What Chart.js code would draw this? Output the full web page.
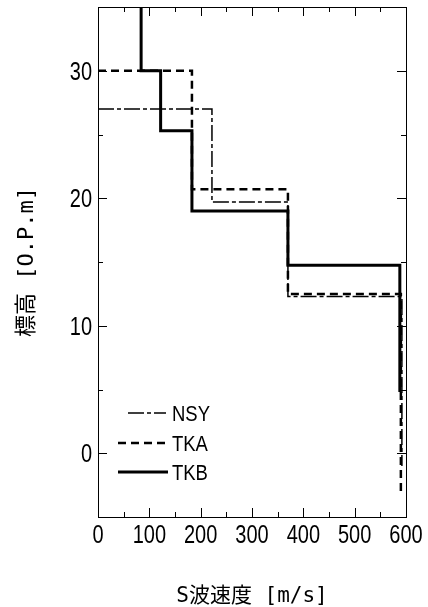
<!DOCTYPE html>
<html lang="ja">
<head>
  <meta charset="UTF-8" />
  <title>S波速度構造</title>
  <script src="https://cdn.jsdelivr.net/npm/chart.js"></script>
  <style>
    html, body { margin: 0; padding: 0; background: #fff; }
  </style>
</head>
<body>
  <canvas id="vsChart" width="428" height="607"></canvas>

  <script>
  // Layer velocities (m/s) and the elevations (O.P.m) of the layer boundaries
  const nsyVs = [222, 370, 592];
  const nsyLevels = [27, 19.7, 12.3, -1];
  const tkaVs = [183, 370, 590];
  const tkaLevels = [30, 20.7, 12.5, -3.2];
  const tkbVs = [84, 122, 183, 370, 588];
  const tkbLevels = [35, 30, 25.3, 19, 14.75, 4.8];

  const seriesNames = ['NSY', 'TKA', 'TKB'];
  const xTicks = [0, 100, 200, 300, 400, 500, 600];
  const yTicks = [0, 10, 20, 30];

  const labelFont = "'Liberation Sans', Arial, sans-serif";
  const titleFont = "'DejaVu Sans Mono', 'Noto Sans CJK JP', monospace";

  // Turn a layer model into a step profile (optionally starting at the axis)
  function stepPoints(vs, levels, fromAxis) {
    const pts = [];
    if (fromAxis) pts.push({ x: 0, y: levels[0] });
    vs.forEach((v, i) => {
      pts.push({ x: v, y: levels[i] });
      pts.push({ x: v, y: levels[i + 1] });
    });
    return pts;
  }

  // Minor ticks halfway between the labelled ones
  function halfSteps(ticks) {
    const out = [];
    for (let i = 0; i < ticks.length - 1; i++) out.push((ticks[i] + ticks[i + 1]) / 2);
    return out;
  }

  // Narrow-looking text: squeeze glyphs horizontally
  function narrowText(ctx, text, x, y, align, squeeze) {
    ctx.save();
    ctx.translate(x, y);
    ctx.scale(squeeze, 1);
    ctx.textAlign = align;
    ctx.textBaseline = 'alphabetic';
    ctx.fillText(text, 0, 0);
    ctx.restore();
  }

  // Box around the plot, inward tick marks on every side and the tick labels
  const framePlugin = {
    id: 'frame',
    afterDatasetsDraw(chart) {
      const { ctx, chartArea: a, scales } = chart;
      const xs = scales.x, ys = scales.y;
      ctx.save();
      ctx.strokeStyle = '#000';
      ctx.lineWidth = 1;
      ctx.strokeRect(a.left + 0.5, a.top + 0.5, a.right - a.left, a.bottom - a.top);

      const yMinor = halfSteps([-10].concat(yTicks, [40]));
      const marks = (vals, len, horiz) => {
        vals.forEach(v => {
          ctx.beginPath();
          if (horiz) {
            const px = Math.round(xs.getPixelForValue(v)) + 0.5;
            ctx.moveTo(px, a.bottom); ctx.lineTo(px, a.bottom - len);
            ctx.moveTo(px, a.top); ctx.lineTo(px, a.top + len);
          } else {
            if (v <= ys.min || v >= ys.max) return;
            const py = Math.round(ys.getPixelForValue(v)) + 0.5;
            ctx.moveTo(a.left, py); ctx.lineTo(a.left + len, py);
            ctx.moveTo(a.right, py); ctx.lineTo(a.right - len, py);
          }
          ctx.stroke();
        });
      };
      marks(xTicks, 9, true);
      marks(halfSteps(xTicks), 5, true);
      marks(yTicks, 9, false);
      marks(yMinor, 5, false);

      ctx.fillStyle = '#000';
      ctx.font = '25px ' + labelFont;
      xTicks.forEach(v => narrowText(ctx, String(v), xs.getPixelForValue(v), a.bottom + 26, 'center', 0.8));
      yTicks.forEach(v => narrowText(ctx, String(v), a.left - 6, ys.getPixelForValue(v) + 9, 'right', 0.8));
      ctx.restore();
    }
  };

  // Legend in the lower-left corner of the plot, using each dataset's line style
  const legendPlugin = {
    id: 'insideLegend',
    afterDraw(chart) {
      const { ctx } = chart;
      const rows = [
        { y: 413, x0: 128, x1: 166 },
        { y: 443, x0: 118, x1: 168 },
        { y: 472, x0: 118, x1: 168 }
      ];
      ctx.save();
      chart.data.datasets.forEach((ds, i) => {
        const r = rows[i];
        ctx.strokeStyle = ds.borderColor;
        ctx.lineWidth = ds.borderWidth;
        ctx.setLineDash(ds.borderDash || []);
        ctx.beginPath();
        ctx.moveTo(r.x0, r.y);
        ctx.lineTo(r.x1, r.y);
        ctx.stroke();
        ctx.setLineDash([]);
        ctx.fillStyle = '#000';
        ctx.font = '22px ' + labelFont;
        narrowText(ctx, ds.label, 172, r.y + 8, 'left', 0.84);
      });
      ctx.restore();
    }
  };

  new Chart(document.getElementById('vsChart'), {
    type: 'scatter',
    data: {
      datasets: [
        {
          label: seriesNames[0],
          data: stepPoints(nsyVs, nsyLevels, true),
          borderColor: '#000',
          borderWidth: 1.5,
          borderDash: [16, 3, 4, 3]
        },
        {
          label: seriesNames[1],
          data: stepPoints(tkaVs, tkaLevels, true),
          borderColor: '#000',
          borderWidth: 2.5,
          borderDash: [8, 5]
        },
        {
          label: seriesNames[2],
          data: stepPoints(tkbVs, tkbLevels, false),
          borderColor: '#000',
          borderWidth: 3
        }
      ].map(ds => Object.assign(ds, { showLine: true, pointRadius: 0, fill: false, tension: 0 }))
    },
    options: {
      responsive: false,
      animation: false,
      layout: { padding: { top: 7, right: 22, left: 0, bottom: 0 } },
      plugins: {
        legend: { display: false },
        tooltip: { enabled: false }
      },
      scales: {
        x: {
          type: 'linear',
          min: 0,
          max: 600,
          afterBuildTicks: s => { s.ticks = xTicks.map(v => ({ value: v })); },
          afterFit: s => { s.height = 90; s.paddingLeft = 0; s.paddingRight = 0; },
          grid: { display: false },
          border: { display: false },
          ticks: { display: false },
          title: {
            display: true,
            text: 'S波速度 [m/s]',
            color: '#000',
            font: { family: titleFont, size: 21 },
            padding: { top: 0, bottom: -2 }
          }
        },
        y: {
          type: 'linear',
          min: -5,
          max: 35,
          afterBuildTicks: s => { s.ticks = yTicks.map(v => ({ value: v })); },
          afterFit: s => { s.width = 98; s.paddingTop = 0; s.paddingBottom = 0; },
          grid: { display: false },
          border: { display: false },
          ticks: { display: false },
          title: {
            display: true,
            text: '標高 [O.P.m]',
            color: '#000',
            font: { family: titleFont, size: 22 },
            padding: { top: 14, bottom: 0 }
          }
        }
      }
    },
    plugins: [framePlugin, legendPlugin]
  });
  </script>
</body>
</html>
